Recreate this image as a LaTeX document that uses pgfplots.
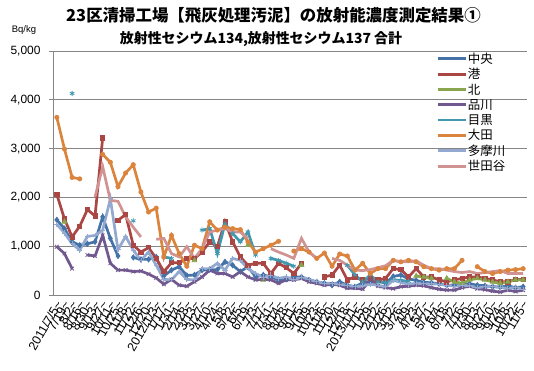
\documentclass[border=0pt]{standalone}
\usepackage{fontspec}
\setmainfont{Liberation Sans}
\newfontfamily\jp{Noto Sans CJK JP}
\usepackage{pgfplots}
\usepackage{pgfplotstable}
\pgfplotsset{compat=1.18}
\definecolor{cChuo}{RGB}{69,114,167}
\definecolor{cMinato}{RGB}{170,70,67}
\definecolor{cKita}{RGB}{137,165,78}
\definecolor{cShina}{RGB}{113,88,143}
\definecolor{cMeguro}{RGB}{65,152,175}
\definecolor{cOta}{RGB}{219,132,61}
\definecolor{cTama}{RGB}{147,169,207}
\definecolor{cSeta}{RGB}{209,147,146}
\definecolor{gridc}{RGB}{134,134,134}
\newcommand\T{\textasciitilde}
\pgfplotstableread{
i chuo minato kita shina meguro ota tama seta
0 1540 2060 nan 990 nan 3640 1450 nan
1 1360 1560 1500 850 nan 2990 1270 nan
2 1090 1190 nan 540 4130 2410 1050 nan
3 1020 1410 nan nan nan 2380 920 nan
4 1050 1750 nan 820 nan nan 1200 nan
5 1090 1620 nan 800 nan nan 1220 2010
6 1600 3220 nan 1220 nan 2880 1330 2630
7 1160 nan nan 650 nan 2720 1970 1940
8 800 1530 nan 510 nan 2220 930 1920
9 nan 1650 nan 510 nan 2500 1200 1600
10 770 1020 nan 480 1520 2670 920 1390
11 730 880 nan 490 nan 2110 710 1190
12 730 970 nan 430 nan 1700 880 nan
13 780 750 nan 350 nan 1780 610 1140
14 390 480 nan 220 780 780 320 1160
15 510 660 nan 320 750 1220 310 850
16 580 660 nan 200 nan 850 480 780
17 400 750 nan 180 nan 590 320 990
18 410 750 710 270 nan 1020 310 750
19 510 880 nan 370 1330 950 540 950
20 520 1090 nan 510 1360 1500 540 1290
21 520 990 nan 440 850 1330 650 1330
22 680 1500 nan 440 1460 1390 510 1360
23 610 1090 nan 370 1260 1360 750 1290
24 480 780 nan 480 1090 1340 710 1290
25 580 610 1020 370 1290 1090 540 1160
26 370 650 nan 310 820 880 440 nan
27 410 650 310 320 nan 950 370 nan
28 370 440 nan 310 750 1020 410 950
29 310 650 nan 240 710 1100 340 880
30 320 560 nan 310 650 nan 370 820
31 370 440 nan 310 590 900 310 750
32 370 650 610 340 nan 950 370 1160
33 310 nan nan 270 nan 880 320 880
34 270 nan nan 240 nan 750 270 750
35 240 370 nan 200 nan 860 240 nan
36 200 410 nan 220 nan 590 240 750
37 270 610 nan 200 nan 840 220 710
38 200 310 nan 140 610 800 200 610
39 170 370 nan 140 410 510 170 510
40 250 310 nan 120 270 650 190 500
41 280 340 nan 300 410 440 220 520
42 300 310 nan 180 270 540 200 560
43 240 340 nan 150 250 540 170 600
44 380 540 nan 130 310 710 300 710
45 410 520 nan 170 300 680 260 680
46 330 370 nan 180 280 710 220 680
47 300 540 390 200 nan 680 240 700
48 260 370 370 190 nan 580 230 610
49 250 370 340 150 nan 540 230 540
50 230 310 nan 120 nan 510 220 540
51 200 270 340 100 nan 540 200 510
52 200 310 270 100 nan 540 180 480
53 220 340 240 150 nan 710 200 460
54 230 370 310 180 nan nan 190 480
55 200 370 340 130 nan 580 150 440
56 190 340 310 110 nan 480 170 460
57 170 310 270 80 nan 440 180 480
58 160 270 240 60 nan 480 160 500
59 190 270 270 100 nan 510 130 440
60 150 320 310 70 nan 520 160 440
61 170 320 310 100 nan 540 120 440
}\data
\begin{document}
\begin{tikzpicture}
\useasboundingbox (0,0) rectangle (534bp,371bp);
\begin{axis}[
  at={(53bp,76bp)}, anchor=south west,
  scale only axis, width=474bp, height=244bp,
  xmin=-0.5, xmax=61.5, ymin=0, ymax=5000,
  unbounded coords=jump,
  axis x line*=bottom, axis y line*=left,
  axis line style={gridc, line width=0.8bp, -},
  ytick={0,1000,2000,3000,4000,5000},
  ymajorgrids, major grid style={gridc, line width=0.8bp},
  y tick style={gridc, line width=0.8bp},
  tick align=outside, major tick length=4bp,
  yticklabel style={font=\fontsize{12}{12}\selectfont, xshift=-5bp},
  /pgf/number format/assume math mode=true,
  /pgf/number format/1000 sep={,},
  xtick={0,...,61},
  x tick style={draw=none},
  minor xtick={-0.5,0.5,...,61.5},
  minor x tick style={gridc, line width=0.8bp},
  minor tick length=4bp,
  xticklabels={2011/7/5\T,7/19\T,8/2\T,8/16\T,8/30\T,9/13\T,9/27\T,10/11\T,10/25\T,11/8\T,11/22\T,12/6\T,12/20\T,2012/1/3\T,1/17\T,1/31\T,2/14\T,2/28\T,3/13\T,3/27\T,4/10\T,4/24\T,5/8\T,5/22\T,6/5\T,6/19\T,7/3\T,7/17\T,7/31\T,8/14\T,8/28\T,9/11\T,9/25\T,10/9\T,10/23\T,11/6\T,11/20\T,12/4\T,12/18\T,2013/1/1\T,1/15\T,1/29\T,2/12\T,2/26\T,3/12\T,3/26\T,4/9\T,4/23\T,5/7\T,5/21\T,6/4\T,6/18\T,7/2\T,7/16\T,7/30\T,8/13\T,8/27\T,9/10\T,9/24\T,10/8\T,10/22\T,11/5\T},
  xticklabel style={font=\fontsize{12.5}{12.5}\selectfont, rotate=60, anchor=east, inner sep=1bp, yshift=-3bp},
  legend style={at={(0.808,0.998)}, anchor=north west, draw=none, fill=none,
    font=\jp\fontsize{12.5}{12.5}\selectfont, row sep=1.6bp, inner sep=0pt,
    nodes={inner sep=1bp}},
  legend cell align=left,
  legend image code/.code={\draw[mark repeat=2,mark phase=2] (0bp,0bp) -- (14bp,0bp) -- (28bp,0bp);},
  every axis plot/.append style={line width=2.7bp, mark options={solid, line width=0.8bp}},
]
\addplot[cChuo, mark=diamond*, mark size=2.6bp] table[x=i,y=chuo]{\data};
\addlegendentry{中央}
\addplot[cMinato, mark=square*, mark size=2.1bp] table[x=i,y=minato]{\data};
\addlegendentry{港}
\addplot[cKita, mark=triangle*, mark size=2.7bp] table[x=i,y=kita]{\data};
\addlegendentry{北}
\addplot[cShina, mark=x, mark size=2.6bp] table[x=i,y=shina]{\data};
\addlegendentry{品川}
\addplot[cMeguro, mark=asterisk, mark size=2.6bp] table[x=i,y=meguro]{\data};
\addlegendentry{目黒}
\addplot[cOta, mark=*, mark size=2.1bp] table[x=i,y=ota]{\data};
\addlegendentry{大田}
\addplot[cTama, mark=+, mark size=2.6bp] table[x=i,y=tama]{\data};
\addlegendentry{多摩川}
\addplot[cSeta, no marks] table[x=i,y=seta]{\data};
\addlegendentry{世田谷}
\end{axis}
\node[font=\jp\bfseries\fontsize{16.5}{16.5}\selectfont] at (273.5bp,356bp) {23区清掃工場【飛灰処理汚泥】の放射能濃度測定結果①};
\node[font=\jp\bfseries\fontsize{14}{14}\selectfont] at (261bp,332bp) {放射性セシウム134,放射性セシウム137\ 合計};
\node[font=\fontsize{9.5}{9.5}\selectfont] at (24bp,341bp) {Bq/kg};
\end{tikzpicture}
\end{document}
